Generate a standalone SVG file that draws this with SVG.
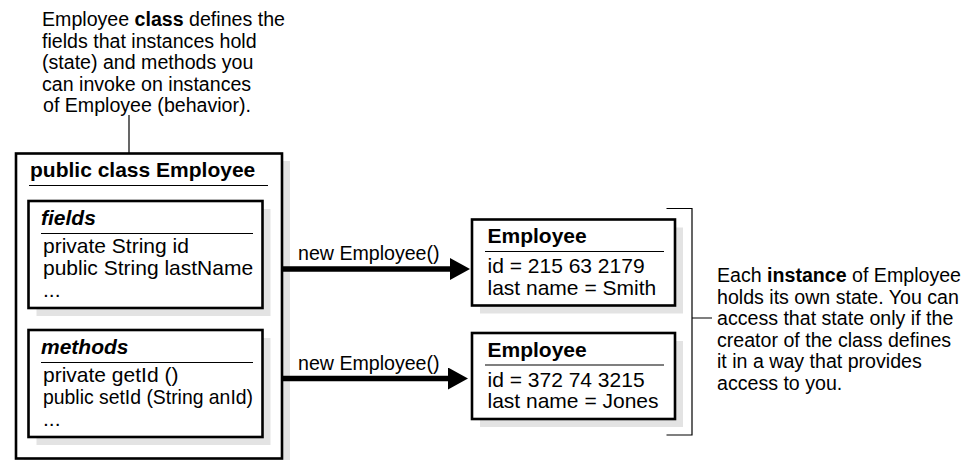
<svg xmlns="http://www.w3.org/2000/svg" width="967" height="460" viewBox="0 0 967 460">
<style>
text{font-family:"Liberation Sans",Arial,Helvetica,sans-serif;fill:#000}
.t{font-size:21px}
.a{font-size:19.6px}
.b{font-weight:bold}
.bi{font-weight:bold;font-style:italic}
.box{fill:#fff;stroke:#000;stroke-width:2.6}
.sh{fill:#e3e3e3}
.rule{stroke:#000;stroke-width:1.2}
.thin{fill:none;stroke:#000;stroke-width:1.2}
.conn{stroke:#000;stroke-width:5.5}
</style>
<defs>
<marker id="ah" markerUnits="userSpaceOnUse" markerWidth="20" markerHeight="22" refX="0" refY="11" orient="auto" viewBox="0 0 20 22">
<path d="M0,0 L20,11 L0,22 Z" fill="#000"/>
</marker>
</defs>

<g id="note-class">
<text class="a" x="42" y="26">Employee <tspan class="b">class</tspan> defines the</text>
<text class="a" x="42" y="47.5">fields that instances hold</text>
<text class="a" x="42" y="69">(state) and methods you</text>
<text class="a" x="42" y="90.5">can invoke on instances</text>
<text class="a" x="43" y="112">of Employee (behavior).</text>
</g>

<g id="class-employee">
<rect class="sh" x="24" y="161" width="266" height="305"/>
<rect class="box" x="16" y="153.5" width="266" height="305"/>
<text class="t b" x="30" y="177">public class Employee</text>
<line class="rule" x1="29" y1="185.5" x2="268" y2="185.5"/>
</g>

<g id="fields">
<rect class="sh" x="36.5" y="209" width="234" height="107"/>
<rect class="box" x="28.5" y="201" width="234" height="107"/>
<text class="t bi" x="41" y="225">fields</text>
<line class="rule" x1="41" y1="233.5" x2="253" y2="233.5"/>
<text class="t" x="43" y="253">private String id</text>
<text class="t" x="43" y="275">public String lastName</text>
<text class="t" x="43" y="297">...</text>
</g>

<g id="methods">
<rect class="sh" x="36.5" y="338" width="234" height="107"/>
<rect class="box" x="28.5" y="330" width="234" height="107"/>
<text class="t bi" x="41" y="354">methods</text>
<line class="rule" x1="41" y1="362.5" x2="253" y2="362.5"/>
<text class="t" x="43" y="382">private getId ()</text>
<text class="t" x="43" y="404" textLength="210" lengthAdjust="spacingAndGlyphs">public setId (String anId)</text>
<text class="t" x="43" y="426">...</text>
</g>

<g id="instance-smith">
<rect class="sh" x="480" y="227.5" width="203" height="86"/>
<rect class="box" x="472" y="219.5" width="203" height="86"/>
<text class="t b" x="487.5" y="243">Employee</text>
<line class="rule" x1="485" y1="251.5" x2="664" y2="251.5"/>
<text class="t" x="487.5" y="273">id = 215 63 2179</text>
<text class="t" x="487.5" y="295">last name = Smith</text>
</g>

<g id="instance-jones">
<rect class="sh" x="480" y="341" width="203" height="86"/>
<rect class="box" x="472" y="333" width="203" height="86"/>
<text class="t b" x="487.5" y="357">Employee</text>
<line class="rule" x1="485" y1="365" x2="664" y2="365"/>
<text class="t" x="487.5" y="386.5">id = 372 74 3215</text>
<text class="t" x="487.5" y="408">last name = Jones</text>
</g>

<g id="note-instance">
<text class="a" x="717" y="282">Each <tspan class="b">instance</tspan> of Employee</text>
<text class="a" x="717" y="303.5">holds its own state. You can</text>
<text class="a" x="717" y="325">access that state only if the</text>
<text class="a" x="717" y="346.5">creator of the class defines</text>
<text class="a" x="717" y="368">it in a way that provides</text>
<text class="a" x="717" y="389.5">access to you.</text>
</g>

<g id="connectors">
<line class="thin" x1="129" y1="115" x2="129" y2="153"/>
<line class="conn" x1="282" y1="269" x2="450" y2="269" marker-end="url(#ah)"/>
<line class="conn" x1="282" y1="378.5" x2="448" y2="378.5" marker-end="url(#ah)"/>
<text class="a" x="298" y="260">new Employee()</text>
<text class="a" x="298" y="370">new Employee()</text>
<path class="thin" d="M666.5,208.5 H692 V435 H666.5 M692,318 H712"/>
</g>
</svg>
